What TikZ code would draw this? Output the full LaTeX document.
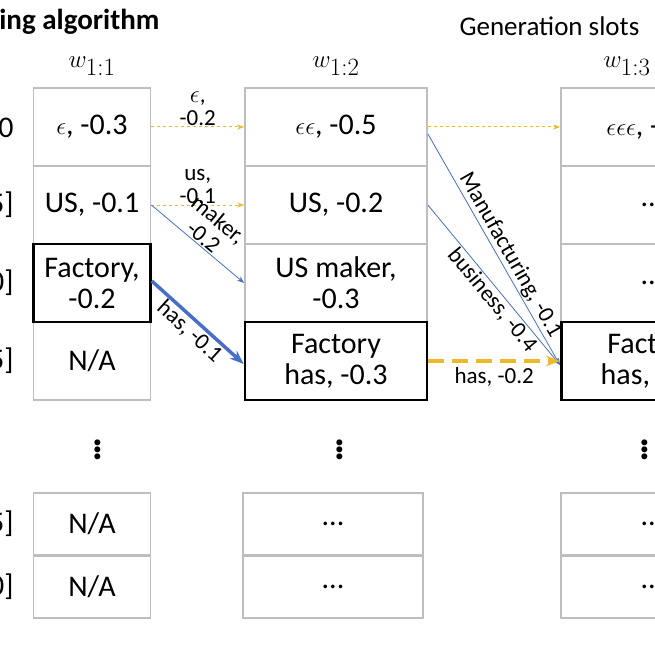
\documentclass[tikz,border=0pt]{standalone}
\usepackage{fontspec}
\setmainfont{Carlito}
\usetikzlibrary{positioning,arrows.meta}
\definecolor{slotgray}{RGB}{190,190,190}
\definecolor{beamblue}{RGB}{72,110,200}
\definecolor{beamgold}{RGB}{240,185,40}

\begin{document}
\begin{tikzpicture}[x=1pt,y=-1pt,font=\fontsize{30}{31}\selectfont]
  \tikzset{slot/.style={draw=slotgray,line width=1.8pt,inner sep=0pt,align=center,minimum height=78pt},
           best/.style={draw=black,line width=2.6pt},
           lbl/.style={font=\fontsize{23}{23}\selectfont,text=black,align=center,inner sep=1pt},
           gold/.style={->,>={Stealth[length=7pt]},beamgold,dashed,line width=1pt},
           blue/.style={->,>={Stealth[length=7pt]},beamblue,line width=0.8pt}}
  \useasboundingbox (0,0) rectangle (655,655);
  \clip (0,0) rectangle (655,655);
  \node[font=\bfseries\fontsize{29}{30}\selectfont,anchor=east] (title) at (163,22) {Beam searching algorithm};
  \node[anchor=west,font=\fontsize{27}{28}\selectfont] (gen) at (456,26) {Generation slots};
  \node[font=\fontsize{44}{46}\selectfont] (h1) at (92,66) {$w_{1:1}$};
  \node[font=\fontsize{44}{46}\selectfont] (h2) at (336,66) {$w_{1:2}$};
  \node[font=\fontsize{44}{46}\selectfont,anchor=west] (h3) at (600,66) {$w_{1:3}$};
  % left labels
  \foreach \t/\y/\n in {0/128/a,5]/205/b,0]/283/c,5]/361/d,5]/524/e,0]/587/f}
    \node[anchor=east] (l\n) at (17,\y) {\t};
  % column 1
  \node[slot,minimum width=117pt] (c1r1) at (92,127) {$\epsilon$, -0.3};
  \node[slot,minimum width=117pt] (c1r2) at (92,205) {US, -0.1};
  \node[slot,minimum width=117pt] (c1r4) at (92,361) {N/A};
  \node[slot,minimum width=117pt,minimum height=62pt] (c1r5) at (92,524) {N/A};
  \node[slot,minimum width=117pt,minimum height=62pt] (c1r6) at (92,587) {N/A};
  \node[slot,best,minimum width=117pt] (c1r3) at (92,283) {Factory,\\-0.2};
  % column 2
  \node[slot,minimum width=182pt] (c2r1) at (336,127) {$\epsilon\epsilon$, -0.5};
  \node[slot,minimum width=182pt] (c2r2) at (336,205) {US, -0.2};
  \node[slot,minimum width=182pt] (c2r3) at (336,283) {US maker,\\-0.3};
  \node[slot,minimum width=180pt,minimum height=62pt] (c2r5) at (333,524) {...};
  \node[slot,minimum width=180pt,minimum height=62pt] (c2r6) at (333,587) {...};
  \node[slot,best,minimum width=182pt] (c2r4) at (336,361) {Factory\\has, -0.3};
  % column 3
  \node[slot,minimum width=182pt,anchor=west] (c3r1) at (560,127) {$\epsilon\epsilon\epsilon$, -0.8};
  \node[slot,minimum width=182pt,anchor=west] (c3r2) at (560,205) {...};
  \node[slot,minimum width=182pt,anchor=west] (c3r3) at (560,283) {...};
  \node[slot,minimum width=182pt,minimum height=62pt,anchor=west] (c3r5) at (560,524) {...};
  \node[slot,minimum width=182pt,minimum height=62pt,anchor=west] (c3r6) at (560,587) {...};
  \node[slot,best,minimum width=182pt,anchor=west] (c3r4) at (560,361) {Factory\\has, -0.5};
  % vertical dots
  \foreach \x/\n in {98/a,340/b,645/c}
    \node[font=\bfseries\fontsize{40}{42}\selectfont] (v\n) at (\x,447) {$\vdots$};
  % transitions
  \draw[gold] (c1r1.east) -- node[lbl,above] {$\epsilon$,\\-0.2} (c2r1.west);
  \draw[gold] (c1r2.east) -- node[lbl,above] {us,\\-0.1} (c2r2.west);
  \draw[blue] (c1r2.east) -- node[lbl,above,sloped] {maker,\\-0.2} (c2r3.west);
  \draw[blue,line width=3.5pt,>={Stealth[length=14pt]}] ([yshift=2pt]c1r3.east) -- node[lbl,below,sloped] {has, -0.1} ([yshift=-3pt]c2r4.west);
  \draw[gold] (c2r1.east) -- (c3r1.west);
  \draw[blue] ([yshift=-7pt]c2r1.east) -- node[lbl,above,sloped,pos=0.55] {Manufacturing, -0.1} ([yshift=-4pt]c3r4.west);
  \draw[blue] (c2r2.east) -- node[lbl,below,sloped,pos=0.55] {business, -0.4} ([yshift=-4pt]c3r4.west);
  \draw[gold,line width=4pt,dash pattern=on 16pt off 8pt,>={Stealth[length=14pt]}] (c2r4.east) -- node[lbl,below=4pt] {has, -0.2} (c3r4.west);
\end{tikzpicture}
\end{document}
